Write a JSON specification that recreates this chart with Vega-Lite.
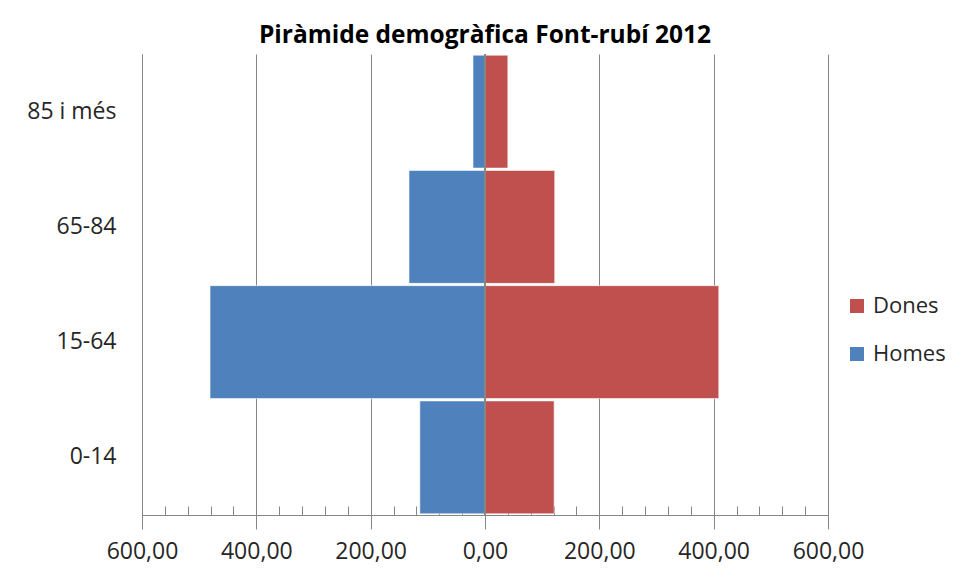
{
  "$schema": "https://vega.github.io/schema/vega-lite/v6.json",
  "width": 686,
  "height": 461,
  "autosize": {"type": "none"},
  "padding": {"left": 142, "top": 54, "right": 135, "bottom": 66},
  "background": "white",
  "title": {
    "text": "Piràmide demogràfica Font-rubí 2012",
    "font": "Open Sans",
    "fontSize": 24.5,
    "fontWeight": "bold",
    "color": "#000000",
    "anchor": "middle",
    "offset": 5
  },
  "config": {
    "view": {"stroke": null},
    "font": "Open Sans"
  },
  "data": {
    "values": [
      {"edat": "85 i més", "sexe": "Homes", "poblacio": -21},
      {"edat": "85 i més", "sexe": "Dones", "poblacio": 40},
      {"edat": "65-84", "sexe": "Homes", "poblacio": -133},
      {"edat": "65-84", "sexe": "Dones", "poblacio": 122},
      {"edat": "15-64", "sexe": "Homes", "poblacio": -481},
      {"edat": "15-64", "sexe": "Dones", "poblacio": 409},
      {"edat": "0-14", "sexe": "Homes", "poblacio": -114},
      {"edat": "0-14", "sexe": "Dones", "poblacio": 121}
    ]
  },
  "layer": [
    {
      "mark": {"type": "bar", "stroke": "#ffffff", "strokeWidth": 1, "strokeOpacity": 0.6},
      "encoding": {
        "y": {
          "field": "edat",
          "type": "nominal",
          "sort": ["85 i més", "65-84", "15-64", "0-14"],
          "scale": {"paddingInner": 0.02, "paddingOuter": 0.01},
          "axis": {
            "title": null,
            "ticks": false,
            "domainColor": "#868686",
            "labelFontSize": 23,
            "labelColor": "#262626",
            "labelPadding": 26,
            "labelFont": "Open Sans"
          }
        },
        "x": {
          "field": "poblacio",
          "type": "quantitative",
          "scale": {"domain": [-600, 600], "nice": false},
          "axis": {
            "title": null,
            "values": [-600,-560,-520,-480,-440,-400,-360,-320,-280,-240,-200,-160,-120,-80,-40,0,40,80,120,160,200,240,280,320,360,400,440,480,520,560,600],
            "tickCount": 40,
            "labelExpr": "datum.value % 200 === 0 ? replace(format(abs(datum.value), '.2f'), '.', ',') : ''",
            "labelOverlap": false,
            "labelFlush": false,
            "labelFontSize": 23,
            "labelFont": "Open Sans",
            "labelColor": "#262626",
            "labelPadding": 11,
            "domainColor": "#868686",
            "tickColor": "#868686",
            "tickSize": {"condition": {"test": "datum.value % 200 === 0", "value": 14}, "value": -9},
            "grid": true,
            "gridColor": "#868686",
            "gridOpacity": {"condition": {"test": "datum.value % 200 === 0", "value": 1}, "value": 0}
          }
        },
        "color": {
          "field": "sexe",
          "type": "nominal",
          "scale": {"domain": ["Dones", "Homes"], "range": ["#C0504D", "#4F81BD"]},
          "legend": {
            "title": null,
            "orient": "none",
            "legendX": 704,
            "legendY": 241,
            "symbolType": "square",
            "symbolSize": 196,
            "symbolStrokeWidth": 0,
            "labelFontSize": 22,
            "labelColor": "#262626",
            "labelFont": "Open Sans",
            "rowPadding": 26,
            "labelOffset": 5
          }
        }
      }
    },
    {
      "mark": {"type": "rule", "color": "#868686", "strokeWidth": 1},
      "encoding": {"x": {"datum": 0}}
    }
  ]
}
